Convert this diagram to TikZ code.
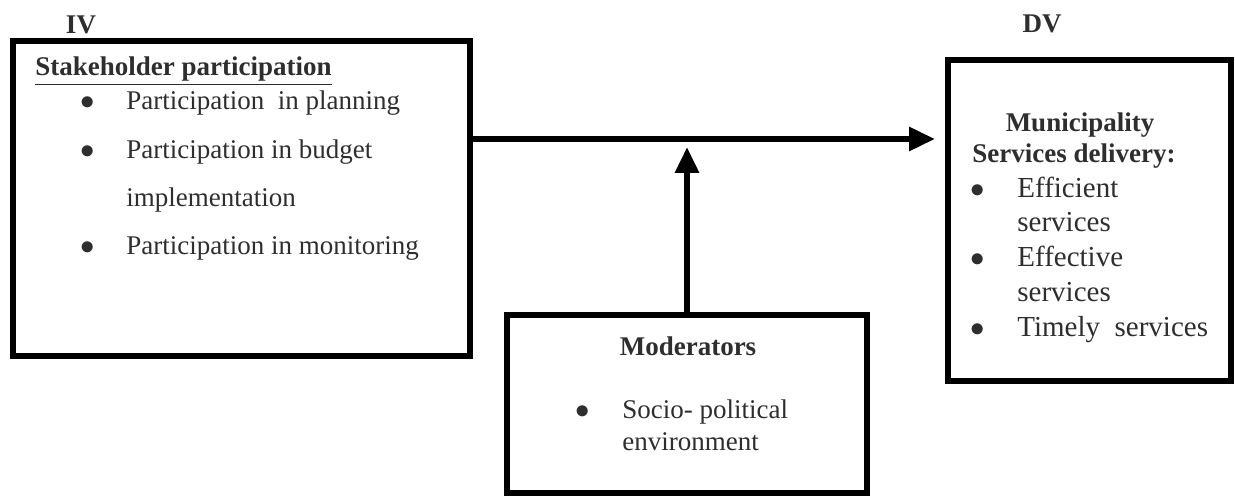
\documentclass[tikz,border=0pt]{standalone}
\usepackage{fontspec}
\setmainfont{Liberation Serif}
\usetikzlibrary{arrows.meta, positioning}
\definecolor{inkgray}{HTML}{2E2E2E}

\begin{document}
\begin{tikzpicture}[
  x=0.5pt, y=-0.5pt,
  box/.style={draw=black, line width=3pt, inner sep=0pt},
  head/.style={font=\fontsize{13.5}{16}\selectfont\bfseries, text=inkgray, inner sep=0pt},
  item/.style={font=\fontsize{13.5}{16}\selectfont, text=inkgray, anchor=base west, inner sep=0pt},
  bigitem/.style={item, font=\fontsize{14.5}{17}\selectfont},
  dot/.style={item, anchor=base, font=\fontsize{15}{17}\selectfont},
  bigdot/.style={dot},
  flow/.style={draw=black, line width=3pt, -{Triangle[length=13pt, width=11.5pt]}},
]
  \useasboundingbox (0,0) rectangle (1235,496);

  % boxes
  \node[box, minimum width=228.5pt, minimum height=157.5pt] (iv) at (241.5,198.5) {};
  \node[box, minimum width=141.5pt, minimum height=160.5pt] (dv) at (1089.5,220.5) {};
  \node[box, minimum width=180pt, minimum height=89pt] (mod) at (687,404) {};

  \node[head, anchor=base] (ivlab) at (81,34) {IV};
  \node[head, anchor=base] (dvlab) at (1042,33) {DV};

  % independent variable
  \node[head, anchor=base west] (ivhead) at (35,76) {\underline{Stakeholder participation}};
  \node[dot] (b1) at (88,110) {$\bullet$};
  \node[item] (p1) at (126,110) {Participation~ in planning};
  \node[dot] (b2) at (88,159) {$\bullet$};
  \node[item] (p2) at (126,159) {Participation in budget};
  \node[item] (p2b) at (126,207) {implementation};
  \node[dot] (b3) at (88,255) {$\bullet$};
  \node[item] (p3) at (126,255) {Participation in monitoring};

  % moderator
  \node[head, anchor=base] (modhead) at (688,355) {Moderators};
  \node[dot] (b4) at (583,418) {$\bullet$};
  \node[item] (m1) at (622,418) {Socio- political};
  \node[item] (m1b) at (622,450) {environment};

  % dependent variable
  \node[head, anchor=base] (dvh1) at (1080,132) {Municipality};
  \node[head, anchor=base west] (dvh2) at (972,163) {Services delivery:};
  \node[bigdot] (b5) at (978,198) {$\bullet$};
  \node[bigitem] (s1) at (1017,198) {Efficient};
  \node[bigitem] (s1b) at (1017,232) {services};
  \node[bigdot] (b6) at (978,267) {$\bullet$};
  \node[bigitem] (s2) at (1017,267) {Effective};
  \node[bigitem] (s2b) at (1017,302) {services};
  \node[bigdot] (b7) at (978,336) {$\bullet$};
  \node[bigitem] (s3) at (1017,336) {Timely~ services};

  % arrows
  \coordinate (hit) at (935,139);
  \coordinate (cross) at (690,147);
  \draw[flow] (iv.east |- hit) -- (hit);
  \draw[flow] (mod.north) -- (mod.north |- cross);

\end{tikzpicture}
\end{document}
